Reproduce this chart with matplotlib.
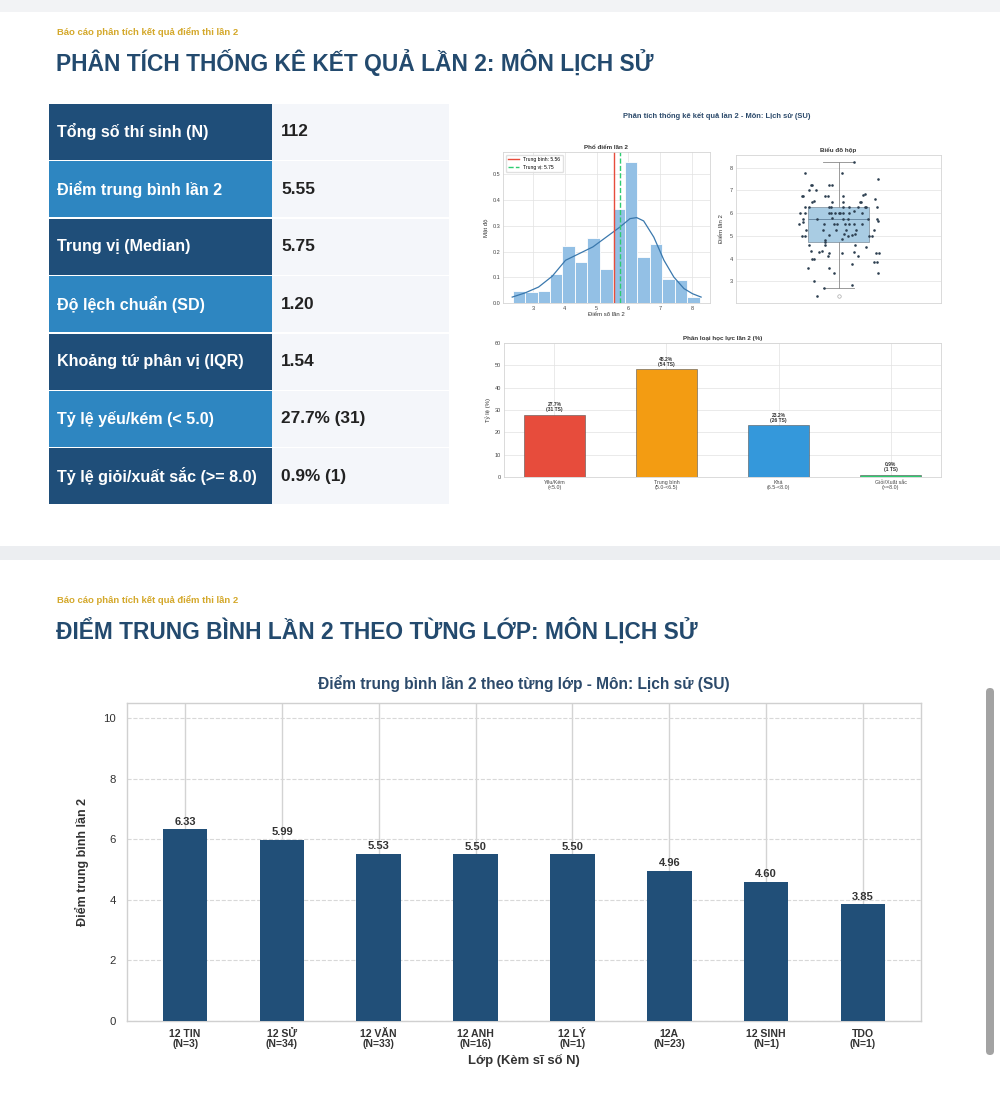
import matplotlib.pyplot as plt
import numpy as np
from matplotlib.patches import Rectangle, FancyBboxPatch

plt.rcParams['font.family'] = ['Liberation Sans', 'DejaVu Sans']

W, H = 1000, 1105

# --- du lieu bang thong ke ---
stat_labels = ["Tổng số thí sinh (N)", "Điểm trung bình lần 2", "Trung vị (Median)",
               "Độ lệch chuẩn (SD)", "Khoảng tứ phân vị (IQR)", "Tỷ lệ yếu/kém (< 5.0)",
               "Tỷ lệ giỏi/xuất sắc (>= 8.0)"]
stat_values = ["112", "5.55", "5.75", "1.20", "1.54", "27.7% (31)", "0.9% (1)"]

# --- pho diem ---
hist_edges = [2.35, 2.74, 3.14, 3.53, 3.92, 4.32, 4.71, 5.10, 5.50, 5.89, 6.28,
              6.68, 7.07, 7.46, 7.86, 8.25]
hist_counts = [2, 2, 2, 5, 10, 7, 11, 6, 16, 24, 8, 10, 4, 4, 1]
kde_x = [2.34, 2.74, 3.17, 3.60, 4.02, 4.45, 4.88, 5.30, 5.73, 6.05, 6.26, 6.48,
         6.80, 7.12, 7.43, 7.75, 8.02, 8.29]
kde_y = [0.023, 0.039, 0.062, 0.104, 0.166, 0.192, 0.218, 0.256, 0.295, 0.328,
         0.332, 0.319, 0.256, 0.166, 0.101, 0.056, 0.036, 0.023]
mean_score = 5.56
median_score = 5.75

# --- bieu do hop ---
box_q1, box_med, box_q3 = 4.71, 5.75, 6.25
whisk_lo, whisk_hi = 2.7, 8.25
outliers = [2.35]
strip_x = [0.10, -0.22, 0.02, 0.255, -0.18, -0.17, -0.06, -0.04, -0.19, -0.145,
           -0.24, -0.23, -0.09, -0.07, 0.03, 0.16, 0.17, -0.16, -0.175, -0.04,
           0.03, 0.14, 0.145, 0.24, -0.22, -0.19, -0.06, -0.05, 0.03, 0.07,
           0.13, 0.17, 0.18, 0.25, -0.25, -0.22, -0.065, -0.05, -0.02, 0.0,
           0.01, 0.03, 0.07, 0.10, 0.155, -0.23, -0.14, -0.04, 0.03, 0.06,
           0.19, 0.25, 0.26, -0.255, -0.23, -0.095, -0.03, -0.01, 0.04, 0.07,
           0.10, 0.15, -0.21, -0.10, -0.015, 0.05, 0.115, 0.23, -0.24, -0.22,
           -0.06, 0.035, 0.065, 0.09, 0.11, 0.20, 0.22, -0.09, -0.085, 0.02,
           -0.19, -0.085, 0.11, 0.18, -0.18, -0.13, -0.11, -0.06, 0.02, 0.10,
           0.13, 0.245, 0.265, -0.07, -0.17, -0.16, 0.23, 0.25, 0.09, -0.20,
           -0.065, -0.03, 0.26, -0.16, 0.09, -0.095, -0.14]
strip_y = [8.25, 7.75, 7.75, 7.5, 7.25, 7.25, 7.25, 7.25, 7.0, 7.0,
           6.75, 6.75, 6.75, 6.75, 6.75, 6.8, 6.85, 6.55, 6.5, 6.5,
           6.5, 6.5, 6.5, 6.6, 6.25, 6.25, 6.25, 6.25, 6.25, 6.25,
           6.25, 6.25, 6.25, 6.25, 6.0, 6.0, 6.0, 6.0, 6.0, 6.0,
           6.0, 6.0, 6.0, 6.1, 6.0, 5.75, 5.75, 5.8, 5.75, 5.75,
           5.75, 5.75, 5.65, 5.5, 5.6, 5.5, 5.5, 5.5, 5.5, 5.5,
           5.5, 5.5, 5.25, 5.25, 5.25, 5.25, 5.25, 5.25, 5.0, 5.0,
           5.05, 5.1, 5.0, 5.05, 5.1, 5.0, 5.0, 4.8, 4.72, 4.85,
           4.6, 4.6, 4.6, 4.5, 4.35, 4.3, 4.35, 4.25, 4.25, 4.3,
           4.1, 4.25, 4.25, 4.1, 4.0, 4.0, 3.85, 3.85, 3.75, 3.6,
           3.6, 3.35, 3.35, 3.0, 2.85, 2.7, 2.35]

# --- phan loai hoc luc ---
level_labels = ["Yếu/Kém\n(<5.0)", "Trung bình\n(5.0-<6.5)", "Khá\n(6.5-<8.0)",
                "Giỏi/Xuất sắc\n(>=8.0)"]
level_pct = [27.7, 48.2, 23.2, 0.9]
level_n = [31, 54, 26, 1]
level_colors = ["#e74c3c", "#f39c12", "#3498db", "#2ecc71"]

# --- diem trung binh theo lop ---
classes = ["12 TIN", "12 SỬ", "12 VĂN", "12 ANH", "12 LÝ", "12A", "12 SINH", "TDO"]
class_n = [3, 34, 33, 16, 1, 23, 1, 1]
class_avg = [6.33, 5.99, 5.53, 5.50, 5.50, 4.96, 4.60, 3.85]

navy = "#1f4e79"
gold = "#d4a82a"
title_blue = "#234a6e"

fig = plt.figure(figsize=(W / 100, H / 100), dpi=100, facecolor="white")

# nen trang: toa do pixel
bg = fig.add_axes([0, 0, 1, 1])
bg.set_xlim(0, W)
bg.set_ylim(H, 0)
bg.axis("off")
bg.add_patch(Rectangle((0, 0), W, 12, color="#f2f3f5", lw=0))
bg.add_patch(Rectangle((0, 546), W, 14, color="#eceef1", lw=0))
bg.add_patch(FancyBboxPatch((986, 688), 8, 367, boxstyle="round,pad=0,rounding_size=4",
                            color="#a3a3a3", lw=0))


def px_axes(x0, y0, x1, y1):
    return fig.add_axes([x0 / W, 1 - y1 / H, (x1 - x0) / W, (y1 - y0) / H])


# tieu de
bg.text(57, 32, "Báo cáo phân tích kết quả điểm thi lần 2", fontsize=6.8,
        fontweight="bold", color=gold, va="center")
bg.text(56, 62, "PHÂN TÍCH THỐNG KÊ KẾT QUẢ LẦN 2: MÔN LỊCH SỬ", fontsize=16.4,
        fontweight="bold", color=title_blue, va="center")
bg.text(57, 600, "Báo cáo phân tích kết quả điểm thi lần 2", fontsize=6.8,
        fontweight="bold", color=gold, va="center")
bg.text(56, 631, "ĐIỂM TRUNG BÌNH LẦN 2 THEO TỪNG LỚP: MÔN LỊCH SỬ", fontsize=16.4,
        fontweight="bold", color=title_blue, va="center")

# bang thong ke
for i, (lab, val) in enumerate(zip(stat_labels, stat_values)):
    top = 104 + i * 57.4
    cell_color = navy if i % 2 == 0 else "#2e86c1"
    bg.add_patch(Rectangle((49, top), 223, 56, color=cell_color, lw=0))
    bg.add_patch(Rectangle((272, top), 177, 56, color="#f4f6fa", lw=0))
    bg.text(57, top + 28, lab, fontsize=11.6, fontweight="bold", color="white", va="center")
    bg.text(281, top + 28, val, fontsize=12.4, fontweight="bold", color="#222222",
            va="center")

bg.text(717, 116, "Phân tích thống kê kết quả lần 2 - Môn: Lịch sử (SU)", fontsize=5.4,
        fontweight="bold", color="#2c4a6b", ha="center", va="center")

small = 4.0
grid_c = "#e2e2e2"
spine_c = "#d5d5d5"


def style_small(ax):
    ax.set_facecolor("white")
    for s in ax.spines.values():
        s.set_color(spine_c)
        s.set_linewidth(0.6)
    ax.tick_params(length=0, pad=2, labelsize=small, colors="#444444")
    ax.grid(True, color=grid_c, lw=0.5)
    ax.set_axisbelow(True)


# pho diem
ax_h = px_axes(503, 152, 710, 303)
style_small(ax_h)
hist_density = np.array(hist_counts) / (sum(hist_counts) * np.diff(hist_edges))
ax_h.bar(hist_edges[:-1], hist_density, width=np.diff(hist_edges), align="edge",
         color="#93c0e5", edgecolor="white", lw=0.6)
ax_h.plot(kde_x, kde_y, color="#3a78ad", lw=0.9)
ax_h.axvline(mean_score, color="#e74c3c", lw=1.0, label=f"Trung bình: {mean_score:.2f}")
ax_h.axvline(median_score, color="#2ecc71", lw=1.0, ls="--",
             label=f"Trung vị: {median_score:.2f}")
ax_h.set_xlim(2.05, 8.57)
ax_h.set_ylim(0, 0.587)
ax_h.set_xticks([3, 4, 5, 6, 7, 8])
ax_h.set_yticks([0.0, 0.1, 0.2, 0.3, 0.4, 0.5])
ax_h.set_title("Phổ điểm lần 2", fontsize=4.5, fontweight="bold", pad=2, color="#333333")
ax_h.set_xlabel("Điểm số lần 2", fontsize=4.3, labelpad=1, color="#333333")
ax_h.set_ylabel("Mật độ", fontsize=4.3, labelpad=3, color="#333333")
ax_h.legend(loc="upper left", fontsize=3.6, frameon=True, framealpha=0.9,
            edgecolor="#dddddd", handlelength=2.2, borderpad=0.5)

# bieu do hop
ax_b = px_axes(736, 155, 941, 303)
style_small(ax_b)
ax_b.grid(axis="x", visible=False)
ax_b.bxp([{"med": box_med, "q1": box_q1, "q3": box_q3, "whislo": whisk_lo,
           "whishi": whisk_hi, "fliers": outliers}], positions=[0], widths=0.4,
         patch_artist=True,
         boxprops=dict(facecolor="#a9cce3", edgecolor="#8a9aa8", lw=0.6),
         medianprops=dict(color="#6a8aa5", lw=0.7),
         whiskerprops=dict(color="#8a8a8a", lw=0.6),
         capprops=dict(color="#8a8a8a", lw=0.6),
         flierprops=dict(marker="o", markerfacecolor="white", markeredgecolor="#aaaaaa",
                         markersize=2.5, markeredgewidth=0.5))
ax_b.scatter(strip_x, strip_y, s=3.5, color="#2c3e50", zorder=3, lw=0)
ax_b.set_xlim(-0.667, 0.667)
ax_b.set_ylim(2.04, 8.56)
ax_b.set_xticks([])
ax_b.set_yticks([3, 4, 5, 6, 7, 8])
ax_b.set_title("Biểu đồ hộp", fontsize=4.5, fontweight="bold", pad=2, color="#333333")
ax_b.set_ylabel("Điểm lần 2", fontsize=4.3, labelpad=4, color="#333333")

# phan loai hoc luc
ax_c = px_axes(504, 343, 941, 477)
style_small(ax_c)
xc = np.arange(len(level_pct))
ax_c.bar(xc, level_pct, width=0.55, color=level_colors, edgecolor="#555555", lw=0.4)
for x, p, n in zip(xc, level_pct, level_n):
    ax_c.text(x, p + 1.2, f"{p:.1f}%\n({n} TS)", ha="center", va="bottom", fontsize=3.6,
              fontweight="bold", color="#333333", linespacing=1.0)
ax_c.set_xlim(-0.45, 3.45)
ax_c.set_ylim(0, 60)
ax_c.set_yticks(range(0, 61, 10))
ax_c.set_xticks(xc)
ax_c.set_xticklabels(level_labels, fontsize=3.8, linespacing=1.0)
ax_c.set_title("Phân loại học lực lần 2 (%)", fontsize=4.5, fontweight="bold", pad=2,
               color="#333333")
ax_c.set_ylabel("Tỷ lệ (%)", fontsize=4.3, labelpad=3, color="#333333")

# diem trung binh theo lop
ax = px_axes(127, 703, 921, 1021)
ax.set_facecolor("white")
for s in ax.spines.values():
    s.set_color("#d0d0d0")
    s.set_linewidth(1.0)
xb = np.arange(len(classes))
ax.bar(xb, class_avg, width=0.46, color="#214f78", zorder=3)
for x, v in zip(xb, class_avg):
    ax.text(x, v + 0.08, f"{v:.2f}", ha="center", va="bottom", fontsize=8,
            fontweight="bold", color="#333333", zorder=4)
ax.set_xlim(-0.6, 7.6)
ax.set_ylim(0, 10.5)
ax.set_yticks(range(0, 11, 2))
ax.set_xticks(xb)
ax.set_xticklabels([f"{c}\n(N={n})" for c, n in zip(classes, class_n)], fontsize=7.6,
                   fontweight="bold", linespacing=1.0)
ax.tick_params(length=0, pad=6, colors="#333333")
ax.tick_params(axis="y", labelsize=8.2, pad=8)
ax.grid(axis="x", color="#d3d3d3", lw=1.0, zorder=0)
ax.grid(axis="y", color="#d8d8d8", lw=0.8, ls="--", zorder=0)
ax.set_title("Điểm trung bình lần 2 theo từng lớp - Môn: Lịch sử (SU)", fontsize=11.2,
             fontweight="bold", color="#2c4a6b", pad=10)
ax.set_xlabel("Lớp (Kèm sĩ số N)", fontsize=9.4, fontweight="bold", color="#333333",
              labelpad=3)
ax.set_ylabel("Điểm trung bình lần 2", fontsize=9, fontweight="bold", color="#333333",
              labelpad=10)

fig.savefig("out.png", dpi=100, facecolor="white")
